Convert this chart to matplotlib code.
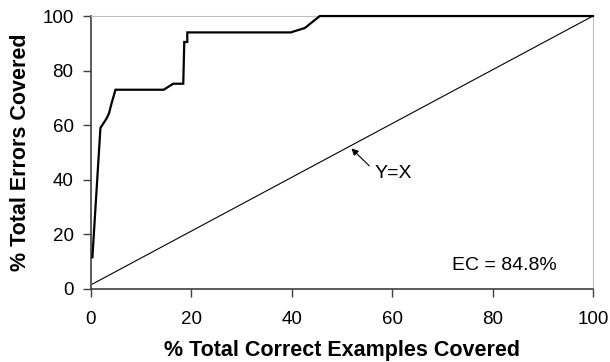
import matplotlib
matplotlib.use("Agg")
import matplotlib.pyplot as plt

# curve
pct_correct = [0.3, 1.9, 3.1, 3.6, 4.1, 4.9, 14.5, 16.4, 18.4, 18.6, 19.2, 19.2,
               39.8, 42.6, 45.6, 100]
pct_errors = [11.6, 59.0, 62.4, 64.3, 67.9, 73.0, 73.0, 75.2, 75.2, 90.5, 90.5, 94.0,
              94.0, 95.6, 100, 100]

# Y=X reference line
diag_x = [0.3, 100]
diag_y = [1.8, 100]

x_ticks = [0, 20, 40, 60, 80, 100]
y_ticks = [0, 20, 40, 60, 80, 100]

plt.rcParams['font.family'] = ['Liberation Sans', 'DejaVu Sans']

fig = plt.figure(figsize=(6.1, 3.62), dpi=100)
ax = fig.add_axes([0.149, 0.2017, 0.823, 0.754])

ax.plot(pct_correct, pct_errors, color='black', lw=1.6, solid_joinstyle='miter',
        clip_on=False, zorder=3)
ax.plot(diag_x, diag_y, color='black', lw=0.8, clip_on=False, zorder=3)

ax.set_xlim(0, 100)
ax.set_ylim(0, 100)
ax.set_xticks(x_ticks)
ax.set_yticks(y_ticks)
ax.tick_params(axis='both', direction='out', length=5.5, width=1, color='#404040',
               labelsize=13.5)
ax.tick_params(axis='x', pad=10)
ax.tick_params(axis='y', pad=7)

ax.spines['left'].set_color('#404040')
ax.spines['bottom'].set_color('#404040')
ax.spines['left'].set_linewidth(1.2)
ax.spines['bottom'].set_linewidth(1.2)
ax.spines['top'].set_color('#bfbfbf')
ax.spines['right'].set_color('#bfbfbf')

ax.set_xlabel('% Total Correct Examples Covered', fontsize=15.5, fontweight='bold', labelpad=9)
ax.set_ylabel('% Total Errors Covered', fontsize=15.5, fontweight='bold', labelpad=8)

ax.annotate('Y=X', xy=(51.9, 51.5), xytext=(56.4, 40.5), fontsize=14,
            va='baseline', ha='left',
            arrowprops=dict(arrowstyle='-|>', color='black', lw=0.8,
                            mutation_scale=10, shrinkA=2, shrinkB=0,
                            relpos=(0, 0.7)))
ax.text(72.0, 7.0, 'EC = 84.8%', fontsize=14, va='baseline', ha='left')

plt.savefig('out.png', dpi=100)
